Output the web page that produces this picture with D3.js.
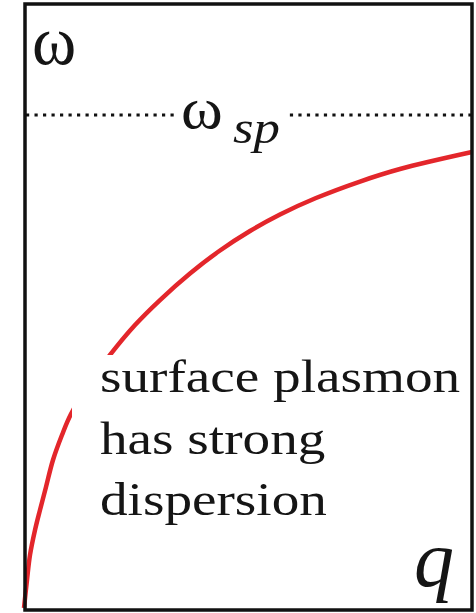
<!DOCTYPE html>
<html>
<head>
<meta charset="utf-8">
<script src="https://cdn.jsdelivr.net/npm/d3@7"></script>
<style>
  html, body { margin: 0; padding: 0; background: #fff; }
  svg { display: block; }
  svg text { font-family: "Liberation Serif", Tinos, "Times New Roman", Times, serif; }
</style>
</head>
<body>
<svg id="chart" width="476" height="613"></svg>
<script>
// Surface plasmon dispersion: frequency (in units of ω_sp) versus wavevector q
const qValues     = [0.000, 0.0067, 0.0134, 0.0246, 0.0357, 0.0491, 0.0647, 0.0848, 0.1049, 0.1473, 0.1920,
                     0.2478, 0.3036, 0.3705, 0.4375, 0.5045, 0.5714, 0.6518, 0.7500, 0.8393, 1.000];
const omegaValues = [0.000, 0.0568, 0.1075, 0.1582, 0.1988, 0.2455, 0.3002, 0.3509, 0.3935, 0.4564, 0.5132,
                     0.5740, 0.6247, 0.6785, 0.7252, 0.7647, 0.7982, 0.8316, 0.8651, 0.8905, 0.9249];
const omegaSp = 1.0;
const noteLines = ["surface plasmon", "has strong", "dispersion"];

const svg = d3.select("#chart");

const x = d3.scaleLinear().domain([0, 1]).range([24, 472]);
const y = d3.scaleLinear().domain([0, 1]).range([608, 115]);

const points = qValues.map((q, i) => [q, omegaValues[i]]);

// dispersion curve
svg.append("path")
  .datum(points)
  .attr("fill", "none")
  .attr("stroke", "#e3262b")
  .attr("stroke-width", 4.5)
  .attr("d", d3.line().x(d => x(d[0])).y(d => y(d[1])).curve(d3.curveCatmullRom.alpha(0.5)));

// horizontal asymptote at ω_sp, broken around its label
const yAsym = y(omegaSp);
[[0, 0.344], [0.589, 1]].forEach(([a, b]) => {
  svg.append("line")
    .attr("x1", x(a) + 2).attr("x2", x(b))
    .attr("y1", yAsym).attr("y2", yAsym)
    .attr("stroke", "#111")
    .attr("stroke-width", 3.2)
    .attr("stroke-dasharray", "3.2,5.3");
});

// helper: text with horizontal/vertical stretch
function label(str, px, py, size, sx, sy, italic) {
  return svg.append("text")
    .attr("transform", `translate(${px},${py}) scale(${sx},${sy})`)
    .attr("font-size", size)
    .attr("font-style", italic ? "italic" : "normal")
    .attr("fill", "#151515")
    .text(str);
}

// note box (opaque, hides the curve behind it)
svg.append("rect")
  .attr("x", 72).attr("y", 355)
  .attr("width", 398).attr("height", 205)
  .attr("fill", "#fff");

noteLines.forEach((s, i) => label(s, 100, 392 + i * 61.5, 46, 1.2, 1, false));

// axis symbols
label("ω", 32, 63.5, 60, 1.12, 1.16, false);
label("ω", 181, 128, 52, 1.22, 1.15, false);
label("sp", 233, 143, 46, 1.15, 1, true);
label("q", 414, 586, 80, 1.0, 1, true);

// frame
svg.append("rect")
  .attr("x", 25).attr("y", 4)
  .attr("width", 447).attr("height", 606)
  .attr("fill", "none")
  .attr("stroke", "#111")
  .attr("stroke-width", 3.5);
</script>
</body>
</html>
